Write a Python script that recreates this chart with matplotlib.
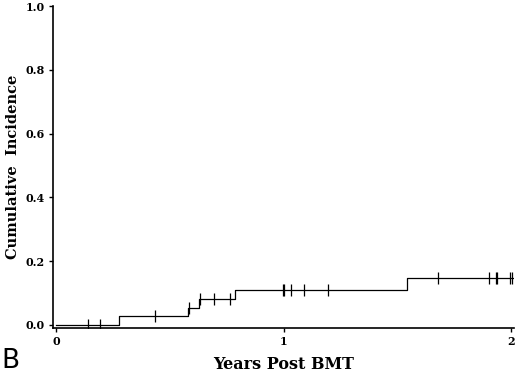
import numpy as np
import matplotlib.pyplot as plt

# step function: event times (years) and cumulative incidence after each step
step_times = [0.0, 0.277, 0.579, 0.626, 0.785, 1.541]
step_levels = [0.0, 0.027, 0.054, 0.081, 0.110, 0.147]
end_time = 2.005

# censored observations (years)
censor_times = [0.142, 0.195, 0.435, 0.585, 0.634, 0.695, 0.762,
                0.996, 1.003, 1.030, 1.088, 1.194,
                1.676, 1.900, 1.934, 1.938, 1.993, 2.004]

y_ticks = [0.0, 0.2, 0.4, 0.6, 0.8, 1.0]
x_ticks = [0, 1, 2]

serif = 'DejaVu Serif'

fig = plt.figure(figsize=(5.2, 3.76), dpi=100)
ax = fig.add_axes([0.102, 0.1277, 0.886, 0.856])

xs = step_times + [end_time]
ys = step_levels + [step_levels[-1]]
ax.step(xs, ys, where='post', color='black', linewidth=0.9)

# censor marks sit on the curve
idx = np.searchsorted(step_times, censor_times, side='right') - 1
censor_y = [step_levels[i] for i in idx]
ax.plot(censor_times, censor_y, linestyle='none', marker='|', color='black',
        markersize=8, markeredgewidth=0.9)

ax.set_xlim(-0.013, 2.01)
ax.set_ylim(-0.0094, 1.0)
ax.set_xticks(x_ticks)
ax.set_xticklabels([str(t) for t in x_ticks])
ax.set_yticks(y_ticks)
ax.set_yticklabels([f'{t:.1f}' for t in y_ticks])

for side in ['top', 'right']:
    ax.spines[side].set_visible(False)
for side in ['left', 'bottom']:
    ax.spines[side].set_linewidth(1.2)

ax.tick_params(direction='out', length=3, width=1, labelsize=8, pad=3)
for lbl in ax.get_xticklabels() + ax.get_yticklabels():
    lbl.set_family(serif)
    lbl.set_fontweight('bold')

ax.set_xlabel('Years Post BMT', fontfamily=serif, fontweight='bold', fontsize=11.5, labelpad=6)
ax.set_ylabel('Cumulative  Incidence', fontfamily=serif, fontweight='bold', fontsize=10.5, labelpad=4)

fig.text(0.002, 0.005, 'B', fontsize=19, family='DejaVu Sans', ha='left', va='bottom')

fig.savefig('out.png', dpi=100)
